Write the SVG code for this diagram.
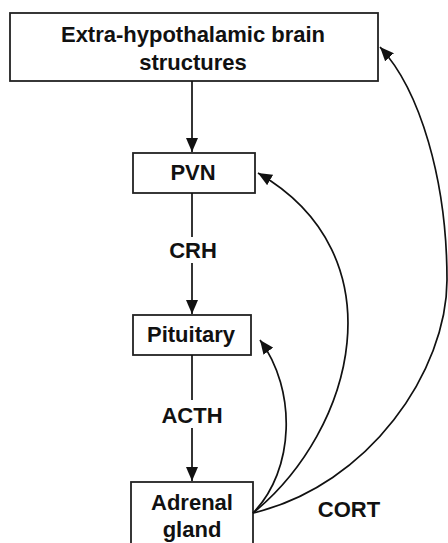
<svg xmlns="http://www.w3.org/2000/svg" width="448" height="543" viewBox="0 0 448 543">
<defs>
<style>
.box{fill:#fff;stroke:#222;stroke-width:1.8}
.t{font-family:"Liberation Sans",Arial,sans-serif;font-weight:bold;font-size:22px;fill:#111;text-anchor:middle}
.c{fill:none;stroke:#111;stroke-width:1.7}
</style>
<marker id="ah" markerUnits="userSpaceOnUse" markerWidth="14" markerHeight="12" refX="14" refY="6" orient="auto">
<path d="M0,0 L14,6 L0,12 z" fill="#111"/>
</marker>
</defs>
<rect width="448" height="543" fill="#fff"/>
<g id="extra">
<rect class="box" x="10" y="13" width="368" height="68"/>
<text class="t" x="193" y="42">Extra-hypothalamic brain</text>
<text class="t" x="193" y="70">structures</text>
</g>
<g id="pvn">
<rect class="box" x="133" y="153" width="122" height="40"/>
<text class="t" x="193" y="180">PVN</text>
</g>
<g id="pituitary">
<rect class="box" x="133" y="315" width="118" height="40"/>
<text class="t" x="191" y="342">Pituitary</text>
</g>
<g id="adrenal">
<rect class="box" x="131" y="482" width="122" height="80"/>
<text class="t" x="192" y="510">Adrenal</text>
<text class="t" x="192" y="537">gland</text>
</g>
<g id="connectors">
<line class="c" x1="192" y1="81" x2="192" y2="152" marker-end="url(#ah)"/>
<line class="c" x1="192" y1="193" x2="192" y2="237"/>
<line class="c" x1="192" y1="263" x2="192" y2="314" marker-end="url(#ah)"/>
<line class="c" x1="192" y1="355" x2="192" y2="400"/>
<line class="c" x1="192" y1="428" x2="192" y2="481" marker-end="url(#ah)"/>
<path class="c" d="M253,513 C295,470 297,390 260,340" marker-end="url(#ah)"/>
<path class="c" d="M253,513 C355,430 400,255 258,173" marker-end="url(#ah)"/>
<path class="c" d="M253,513 C370,485 447,370 447,280 C447,180 420,90 380,47" marker-end="url(#ah)"/>
</g>
<g id="labels">
<text class="t" x="193" y="258">CRH</text>
<text class="t" x="192" y="423">ACTH</text>
<text class="t" x="349" y="517">CORT</text>
</g>
</svg>
